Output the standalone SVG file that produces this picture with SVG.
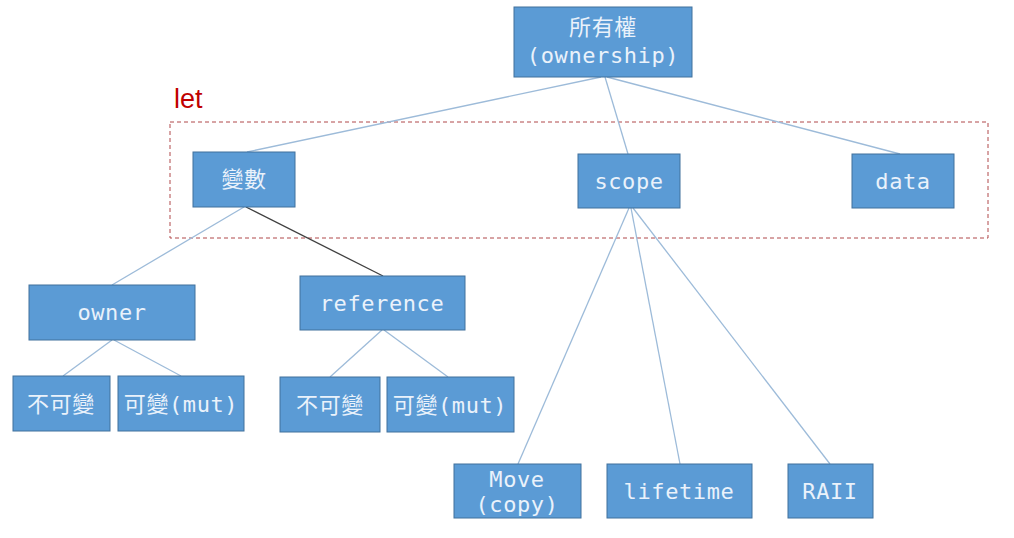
<svg xmlns="http://www.w3.org/2000/svg" width="1014" height="538" viewBox="0 0 1014 538">
<style>
.box{fill:#5B9BD5;stroke:#41719C;stroke-width:1}
.t{fill:#EAF2FB;font-family:"DejaVu Sans Mono","Noto Sans CJK TC",monospace;font-size:22px;text-anchor:middle;letter-spacing:0.6px}
.c{fill:none;stroke:#9DBBD9;stroke-width:1.3}
</style>
<rect width="1014" height="538" fill="#ffffff"/>
<g id="let-group">
<rect x="170" y="122" width="818" height="116" fill="none" stroke="#B0494A" stroke-width="1" stroke-dasharray="4,3"/>
<text x="174" y="108" fill="#C00000" font-family="Liberation Sans, sans-serif" font-size="27">let</text>
</g>
<g id="connectors">
<line class="c" x1="601" y1="77" x2="247" y2="152"/>
<line class="c" x1="605" y1="77" x2="628" y2="154"/>
<line class="c" x1="607" y1="77" x2="900" y2="154"/>
<line class="c" x1="244" y1="207" x2="112" y2="285"/>
<line x1="246" y1="207" x2="383" y2="276" stroke="#404040" stroke-width="1.3"/>
<line class="c" x1="112" y1="340" x2="63" y2="376"/>
<line class="c" x1="114" y1="340" x2="181" y2="376"/>
<line class="c" x1="382" y1="330" x2="330" y2="377"/>
<line class="c" x1="384" y1="330" x2="448" y2="377"/>
<line class="c" x1="629" y1="208" x2="518" y2="464"/>
<line class="c" x1="631" y1="208" x2="680" y2="464"/>
<line class="c" x1="633" y1="208" x2="830" y2="464"/>
</g>
<g id="ownership"><rect class="box" x="514" y="7" width="178" height="70"/><text class="t" x="603" y="35">所有權</text><text class="t" x="603" y="63">(ownership)</text></g>
<g id="variable"><rect class="box" x="193" y="152" width="102" height="55"/><text class="t" x="244" y="187">變數</text></g>
<g id="scope"><rect class="box" x="578" y="154" width="102" height="54"/><text class="t" x="629" y="189">scope</text></g>
<g id="data"><rect class="box" x="852" y="154" width="102" height="54"/><text class="t" x="903" y="189">data</text></g>
<g id="owner"><rect class="box" x="29" y="285" width="166" height="55"/><text class="t" x="112" y="320">owner</text></g>
<g id="reference"><rect class="box" x="300" y="276" width="165" height="54"/><text class="t" x="382" y="311">reference</text></g>
<g id="owner-immut"><rect class="box" x="13" y="376" width="97" height="55"/><text class="t" x="61" y="412">不可變</text></g>
<g id="owner-mut"><rect class="box" x="118" y="376" width="126" height="55"/><text class="t" x="181" y="412">可變(mut)</text></g>
<g id="ref-immut"><rect class="box" x="280" y="377" width="100" height="55"/><text class="t" x="330" y="413">不可變</text></g>
<g id="ref-mut"><rect class="box" x="387" y="377" width="127" height="55"/><text class="t" x="450" y="413">可變(mut)</text></g>
<g id="move"><rect class="box" x="454" y="464" width="127" height="54"/><text class="t" x="517" y="487">Move</text><text class="t" x="517" y="512">(copy)</text></g>
<g id="lifetime"><rect class="box" x="607" y="464" width="145" height="54"/><text class="t" x="679" y="499">lifetime</text></g>
<g id="raii"><rect class="box" x="788" y="464" width="85" height="54"/><text class="t" x="830" y="499">RAII</text></g>
</svg>
